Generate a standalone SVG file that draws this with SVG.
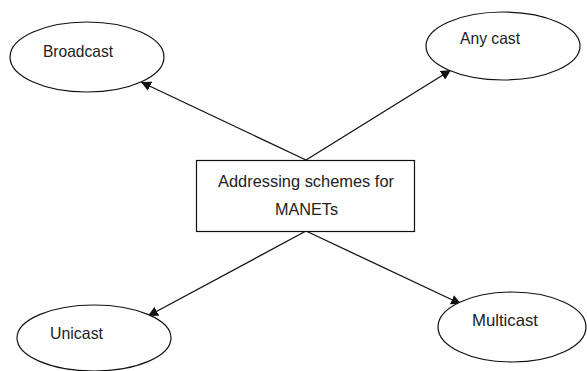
<svg xmlns="http://www.w3.org/2000/svg" width="587" height="371" viewBox="0 0 587 371">
<style>
.n{fill:#fff;stroke:#111;stroke-width:1.2}
.t{font-family:"Liberation Sans",Arial,sans-serif;font-size:16.5px;fill:#222}
.c{stroke:#111;stroke-width:1.3;fill:none;marker-end:url(#ah)}
</style>
<defs>
<marker id="ah" viewBox="0 0 10 10" refX="10" refY="5" markerWidth="10" markerHeight="10" markerUnits="userSpaceOnUse" orient="auto">
<path d="M0,0 L10,5 L0,10 z" fill="#111"/>
</marker>
</defs>
<rect width="587" height="371" fill="#fff"/>
<g id="connectors">
<line class="c" x1="306" y1="160" x2="141" y2="82"/>
<line class="c" x1="306" y1="160" x2="451" y2="70"/>
<line class="c" x1="306" y1="231" x2="148" y2="316"/>
<line class="c" x1="306" y1="231" x2="461" y2="304"/>
</g>
<g id="center">
<rect class="n" x="196.5" y="160.5" width="218" height="71"/>
<text class="t" x="218" y="187" textLength="176" lengthAdjust="spacingAndGlyphs">Addressing schemes for</text>
<text class="t" x="275" y="215" textLength="63" lengthAdjust="spacingAndGlyphs">MANETs</text>
</g>
<g id="broadcast">
<ellipse class="n" cx="87" cy="57" rx="77" ry="35"/>
<text class="t" x="43" y="57" textLength="70" lengthAdjust="spacingAndGlyphs">Broadcast</text>
</g>
<g id="anycast">
<ellipse class="n" cx="503" cy="46" rx="77" ry="34"/>
<text class="t" x="460" y="44" textLength="60" lengthAdjust="spacingAndGlyphs">Any cast</text>
</g>
<g id="unicast">
<ellipse class="n" cx="94" cy="338" rx="77" ry="33"/>
<text class="t" x="50" y="339" textLength="53" lengthAdjust="spacingAndGlyphs">Unicast</text>
</g>
<g id="multicast">
<ellipse class="n" cx="512" cy="327" rx="74" ry="35"/>
<text class="t" x="472" y="326" textLength="66" lengthAdjust="spacingAndGlyphs">Multicast</text>
</g>
</svg>
